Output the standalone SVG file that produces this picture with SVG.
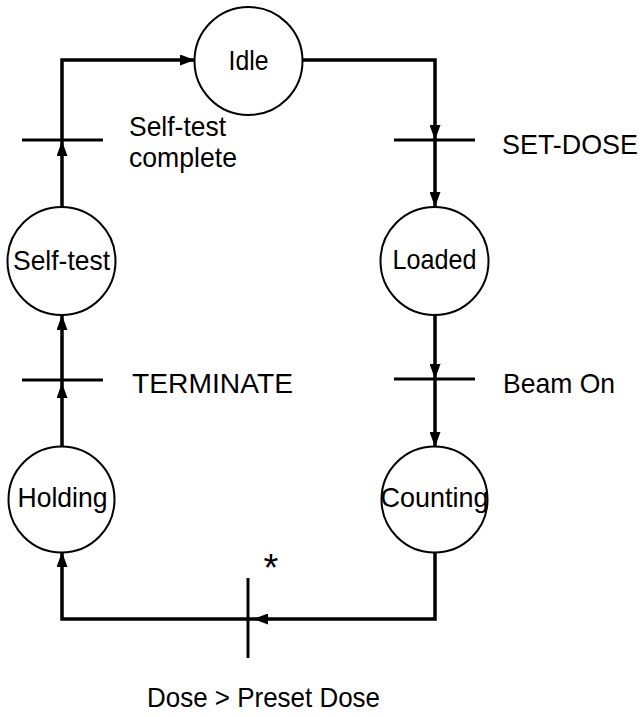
<svg xmlns="http://www.w3.org/2000/svg" width="644" height="717" viewBox="0 0 644 717">
<defs>
<marker id="arr" viewBox="0 0 15 11" refX="15" refY="5.5" markerWidth="15" markerHeight="11" markerUnits="userSpaceOnUse" orient="auto">
<path d="M0,0 L15,5.5 L0,11 z" fill="#000"/>
</marker>
<style>
.node circle { fill: #fff; stroke: #000; stroke-width: 2; }
.node text, .lbl { font-family: "Liberation Sans", Arial, sans-serif; font-size: 28px; fill: #000; }
.node text { text-anchor: middle; }
.conn path { fill: none; stroke: #000; stroke-width: 3.5; }
.conn path.a { marker-end: url(#arr); }
.bar { stroke: #000; stroke-width: 3; }
</style>
</defs>
<rect width="644" height="717" fill="#fff"/>
<g id="connectors" class="conn">
<path class="a" d="M62,207 V141"/>
<path class="a" d="M62,141 V60 H195"/>
<path class="a" d="M303,60 H435 V140"/>
<path class="a" d="M435,140 V207"/>
<path class="a" d="M435,315 V379"/>
<path class="a" d="M435,379 V447"/>
<path class="a" d="M435,552 V619 H253"/>
<path class="a" d="M253,619 H62 V552"/>
<path class="a" d="M62,447 V383"/>
<path class="a" d="M62,383 V315"/>
</g>
<g id="transitions">
<line class="bar" x1="22" y1="140" x2="103" y2="140"/>
<line class="bar" x1="394" y1="140" x2="475" y2="140"/>
<line class="bar" x1="22" y1="380" x2="103" y2="380"/>
<line class="bar" x1="394" y1="379" x2="475" y2="379"/>
<line class="bar" x1="248" y1="578" x2="248" y2="658"/>
<text class="lbl" x="129" y="136" textLength="97" lengthAdjust="spacingAndGlyphs">Self-test</text>
<text class="lbl" x="129" y="167" textLength="108" lengthAdjust="spacingAndGlyphs">complete</text>
<text class="lbl" x="502" y="154" textLength="136" lengthAdjust="spacingAndGlyphs">SET-DOSE</text>
<text class="lbl" x="132" y="393" textLength="161" lengthAdjust="spacingAndGlyphs">TERMINATE</text>
<text class="lbl" x="503" y="393" textLength="112" lengthAdjust="spacingAndGlyphs">Beam On</text>
<text class="lbl" x="271" y="581" style="font-size:38px;text-anchor:middle">*</text>
<text class="lbl" x="147" y="707" textLength="233" lengthAdjust="spacingAndGlyphs">Dose &gt; Preset Dose</text>
</g>
<g id="idle" class="node">
<circle cx="248.5" cy="61" r="54"/>
<text x="248.5" y="70" textLength="40" lengthAdjust="spacingAndGlyphs">Idle</text>
</g>
<g id="loaded" class="node">
<circle cx="434.5" cy="261" r="54"/>
<text x="434.5" y="269" textLength="84" lengthAdjust="spacingAndGlyphs">Loaded</text>
</g>
<g id="counting" class="node">
<circle cx="434.5" cy="499.5" r="53"/>
<text x="434.5" y="507" textLength="108" lengthAdjust="spacingAndGlyphs">Counting</text>
</g>
<g id="holding" class="node">
<circle cx="61.5" cy="499.5" r="53"/>
<text x="62.5" y="507" textLength="90" lengthAdjust="spacingAndGlyphs">Holding</text>
</g>
<g id="selftest" class="node">
<circle cx="61.5" cy="261" r="54"/>
<text x="61.5" y="270" textLength="97" lengthAdjust="spacingAndGlyphs">Self-test</text>
</g>
</svg>
